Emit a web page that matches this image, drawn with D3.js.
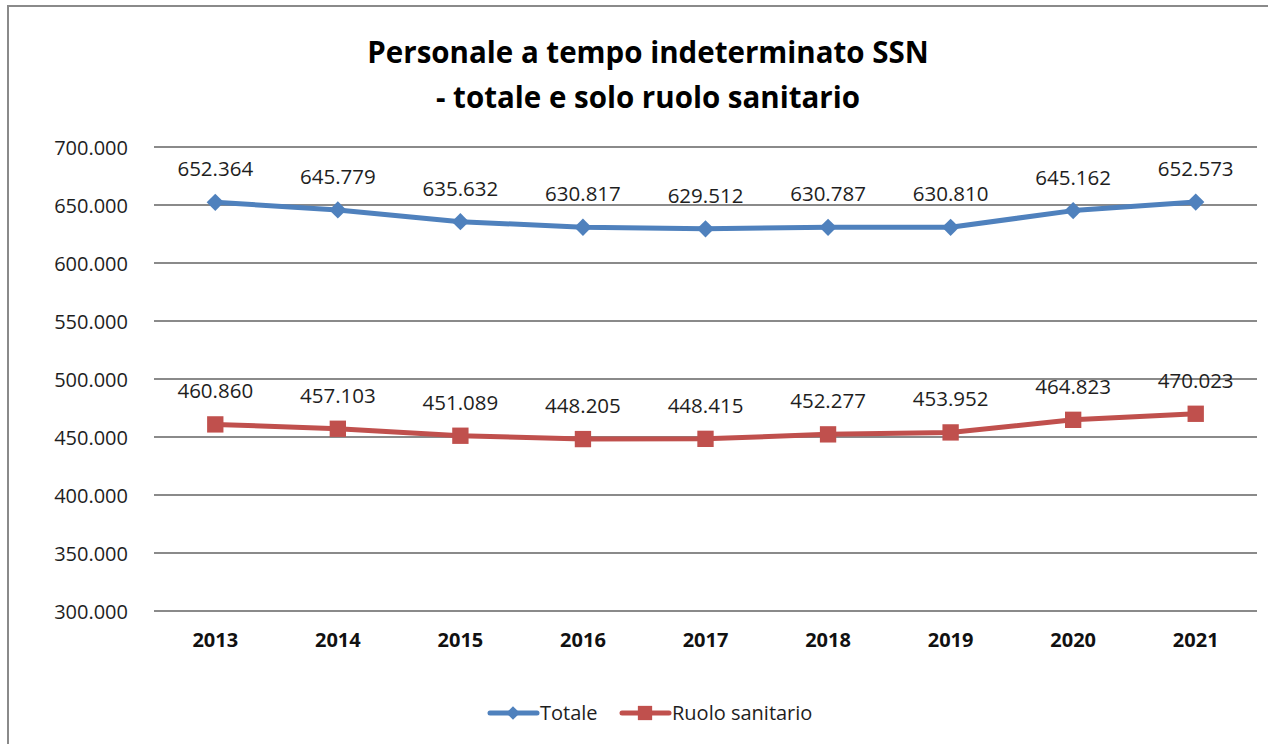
<!DOCTYPE html>
<html>
<head>
<meta charset="utf-8">
<script src="https://cdn.jsdelivr.net/npm/d3@7"></script>
<style>
  body { margin: 0; background: #fff; }
  text { font-family: "Open Sans", sans-serif; fill: #1e1e1e; }
</style>
</head>
<body>
<svg id="chart" width="1268" height="744"></svg>
<script>
// data
const years = ["2013", "2014", "2015", "2016", "2017", "2018", "2019", "2020", "2021"]
const totale = [652364, 645779, 635632, 630817, 629512, 630787, 630810, 645162, 652573]
const sanitario = [460860, 457103, 451089, 448205, 448415, 452277, 453952, 464823, 470023]
const yTicks = [300000, 350000, 400000, 450000, 500000, 550000, 600000, 650000, 700000]
const titleLines = ["Personale a tempo indeterminato SSN", "- totale e solo ruolo sanitario"]

const blue = "#4f81bd", red = "#c0504d"

const it = d3.formatLocale({ decimal: ",", thousands: ".", grouping: [3], currency: ["€", ""] })
const fmt = it.format(",d")

const svg = d3.select("#chart")

// outer frame (continues past right/bottom edge)
svg.append("rect")
    .attr("x", 8).attr("y", 6)
    .attr("width", 1300).attr("height", 800)
    .attr("fill", "none")
    .attr("stroke", "#8a8a8a")
    .attr("stroke-width", 2)

// title
svg.selectAll(".title").data(titleLines).enter()
    .append("text")
    .attr("class", "title")
    .attr("x", 648)
    .attr("y", (d, i) => 63 + i * 45)
    .attr("text-anchor", "middle")
    .attr("font-size", "29.5px")
    .attr("font-weight", "bold")
    .style("fill", "#000")
    .text(d => d)

const x = d3.scaleBand().domain(years).range([154, 1257])
const cx = d => x(d) + x.bandwidth() / 2
const y = d3.scaleLinear().domain([300000, 700000]).range([611, 147])

// gridlines
svg.append("g")
    .selectAll("line").data(yTicks).enter()
    .append("line")
    .attr("x1", 154).attr("x2", 1257)
    .attr("y1", d => y(d)).attr("y2", d => y(d))
    .attr("stroke", "#8a8a8a")
    .attr("stroke-width", 2)

// y axis labels
const yAxis = svg.append("g")
    .attr("transform", "translate(148,0)")
    .call(d3.axisLeft(y).tickValues(yTicks).tickFormat(fmt).tickSize(0).tickPadding(20))
yAxis.select(".domain").remove()
yAxis.selectAll("text")
    .attr("font-size", "20px")
    .attr("font-family", "Open Sans, sans-serif")
    .attr("dy", "0.36em")
    .style("fill", "#1e1e1e")

// x axis labels
const xAxis = svg.append("g")
    .attr("transform", "translate(0,611)")
    .call(d3.axisBottom(x).tickSize(0).tickPadding(22))
xAxis.select(".domain").remove()
xAxis.selectAll("text")
    .attr("font-size", "20px")
    .attr("font-weight", "bold")
    .attr("font-family", "Open Sans, sans-serif")
    .style("fill", "#111")

const line = d3.line().x((d, i) => cx(years[i])).y(d => y(d))

const series = [
    { name: "Totale", values: totale, color: blue, symbol: d3.symbolDiamond2, size: 190 },
    { name: "Ruolo sanitario", values: sanitario, color: red, symbol: d3.symbolSquare2, size: 340 }
]

series.forEach(s => {
    svg.append("path")
        .datum(s.values)
        .attr("d", line)
        .attr("fill", "none")
        .attr("stroke", s.color)
        .attr("stroke-width", 5)
        .attr("stroke-linejoin", "round")

    svg.append("g").selectAll("path").data(s.values).enter()
        .append("path")
        .attr("transform", (d, i) => `translate(${cx(years[i])},${y(d)})`)
        .attr("d", d3.symbol().type(s.symbol).size(s.size))
        .attr("fill", s.color)

    svg.append("g").selectAll("text").data(s.values).enter()
        .append("text")
        .attr("x", (d, i) => cx(years[i]))
        .attr("y", d => y(d) - 26)
        .attr("text-anchor", "middle")
        .attr("font-size", "20.5px")
        .text(d => fmt(d))
})

// legend
const legendItems = [
    { name: "Totale", color: blue, symbol: d3.symbolDiamond2, size: 120, x0: 490 },
    { name: "Ruolo sanitario", color: red, symbol: d3.symbolSquare2, size: 260, x0: 622 }
]
const lg = svg.append("g").attr("transform", "translate(0,713)")
legendItems.forEach(l => {
    lg.append("line")
        .attr("x1", l.x0).attr("x2", l.x0 + 47)
        .attr("y1", 0).attr("y2", 0)
        .attr("stroke", l.color)
        .attr("stroke-width", 5)
        .attr("stroke-linecap", "round")
    lg.append("path")
        .attr("transform", `translate(${l.x0 + 23},0)`)
        .attr("d", d3.symbol().type(l.symbol).size(l.size))
        .attr("fill", l.color)
    lg.append("text")
        .attr("x", l.x0 + 50)
        .attr("y", 7)
        .attr("font-size", "20px")
        .text(l.name)
})
</script>
</body>
</html>
